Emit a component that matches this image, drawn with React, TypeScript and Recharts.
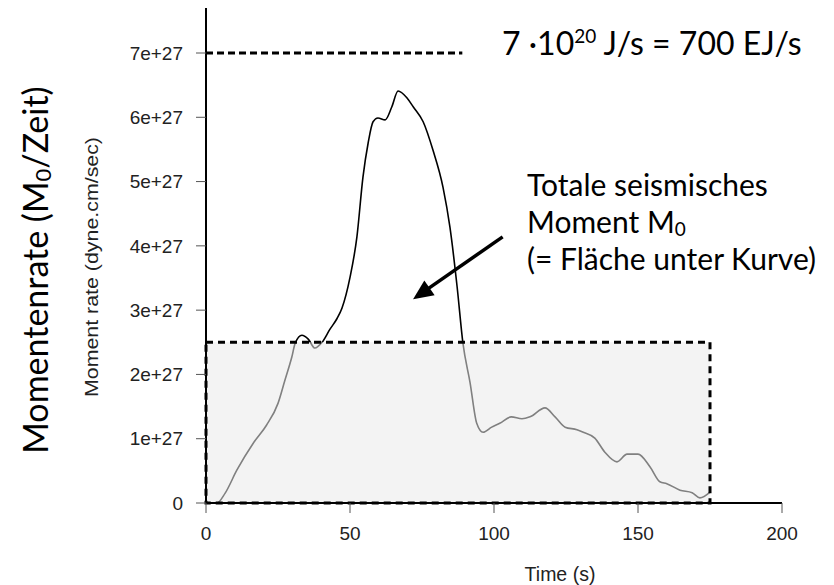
import React from 'react'
import { LineChart, Line, XAxis, YAxis, ReferenceArea, ReferenceLine } from 'recharts'

// seconds after origin
const timeS = [
  0, 3.8, 6.6, 10.7, 16.4, 21, 25, 27.4, 29.8, 31, 33.3, 35.5, 37.8, 40.3, 43, 45.5, 47.2,
  50, 52.4, 54.5, 56.3, 58, 59.7, 62.2, 64.5, 66.7, 69.8, 72, 75.4, 78.8, 82.3, 84.7, 87.2,
  89.2, 91.7, 94, 96.2, 99.2, 102, 106, 109.7, 112.5, 117.7, 121.2, 124.7, 128.8, 131, 135,
  138.5, 142.7, 146.2, 150, 154.2, 157.6, 160, 164.6, 168.8, 171.5, 175,
]
// moment rate, dyne.cm/sec
const momentRate = [
  0, 0, 0.15e27, 0.51e27, 0.93e27, 1.21e27, 1.55e27, 1.91e27, 2.27e27, 2.49e27, 2.61e27, 2.55e27,
  2.41e27, 2.5e27, 2.7e27, 2.87e27, 3.03e27, 3.51e27, 4.14e27, 5.07e27, 5.6e27, 5.93e27, 5.99e27,
  5.96e27, 6.16e27, 6.41e27, 6.3e27, 6.16e27, 5.93e27, 5.49e27, 4.91e27, 4.29e27, 3.36e27,
  2.49e27, 1.87e27, 1.24e27, 1.1e27, 1.18e27, 1.24e27, 1.34e27, 1.31e27, 1.34e27, 1.48e27,
  1.34e27, 1.18e27, 1.14e27, 1.1e27, 1.01e27, 0.79e27, 0.64e27, 0.76e27, 0.76e27, 0.56e27,
  0.33e27, 0.3e27, 0.2e27, 0.16e27, 0.08e27, 0.17e27,
]

const xTicks = [0, 50, 100, 150, 200]
const yTicks = [0, 1e27, 2e27, 3e27, 4e27, 5e27, 6e27, 7e27]
const yTickLabels = ['0', '1e+27', '2e+27', '3e+27', '4e+27', '5e+27', '6e+27', '7e+27']

// box marking the area under the curve
const boxX = [0, 175]
const boxY = [0, 2.5e27]
// peak rate line
const peakRate = 7e27
const peakLineEnd = 89
// arrow tail / head (s, dyne.cm/sec)
const arrowFrom = { x: 103, y: 4.14e27 }
const arrowTo = { x: 71.9, y: 3.17e27 }

const data = timeS.map((t, i) => ({ t, rate: momentRate[i] }))

const axisFont = 'Liberation Sans, Arial, sans-serif'
const tickFont = { fill: '#222', fontSize: 19, fontFamily: axisFont }
const noteFont = 'Lato, "Open Sans", sans-serif'

function ArrowShape(props: any) {
  const { x1, y1, x2, y2 } = props
  const dx = x2 - x1
  const dy = y2 - y1
  const len = Math.sqrt(dx * dx + dy * dy)
  const ux = dx / len
  const uy = dy / len
  const headLen = 20
  const headHalf = 9
  const bx = x2 - ux * headLen
  const by = y2 - uy * headLen
  const pts = `${x2},${y2} ${bx - uy * headHalf},${by + ux * headHalf} ${bx + uy * headHalf},${by - ux * headHalf}`
  return (
    <g>
      <line x1={x1} y1={y1} x2={bx + ux * 2} y2={by + uy * 2} stroke="#000" strokeWidth={3.5} />
      <polygon points={pts} fill="#000" />
    </g>
  )
}

export default function App() {
  return (
    <div style={{ position: 'absolute', left: 0, top: 0, width: 834, height: 585, background: '#fff' }}>
      <LineChart
        width={834}
        height={585}
        data={data}
        margin={{ top: 8, right: 52, bottom: 0, left: 0 }}
        style={{ fontSize: 19, fontFamily: axisFont }}
      >
        <XAxis
          dataKey="t"
          type="number"
          domain={[0, 200]}
          ticks={xTicks}
          height={82}
          fontSize={19}
          tick={tickFont}
          tickSize={10}
          tickMargin={14}
          axisLine={{ stroke: '#000', strokeWidth: 2 }}
          tickLine={{ stroke: '#555' }}
        />
        <YAxis
          type="number"
          width={206}
          domain={[0, 7.7e27]}
          ticks={yTicks}
          allowDataOverflow
          fontSize={19}
          tickFormatter={(v: number) => yTickLabels[yTicks.indexOf(v)]}
          tick={tickFont}
          tickSize={10}
          tickMargin={13}
          axisLine={{ stroke: '#000', strokeWidth: 2 }}
          tickLine={{ stroke: '#555' }}
        />
        <ReferenceLine
          segment={[{ x: 0, y: peakRate }, { x: peakLineEnd, y: peakRate }]}
          stroke="#000"
          strokeWidth={3}
          strokeDasharray="7 4"
        />
        <Line
          type="monotone"
          dataKey="rate"
          stroke="#000"
          strokeWidth={1.6}
          dot={false}
          activeDot={false}
          isAnimationActive={false}
        />
        <ReferenceArea
          x1={boxX[0]}
          x2={boxX[1]}
          y1={boxY[0]}
          y2={boxY[1]}
          fill="rgb(233,233,233)"
          fillOpacity={0.55}
          stroke="#000"
          strokeWidth={3}
          strokeDasharray="7 5"
          isFront
          zIndex={450}
        />
        <ReferenceLine
          segment={[arrowFrom, arrowTo]}
          stroke="#000"
          isFront
          zIndex={460}
          shape={(p: any) => <ArrowShape {...p} />}
        />
      </LineChart>
      <svg
        width={834}
        height={585}
        style={{ position: 'absolute', left: 0, top: 0, pointerEvents: 'none' }}
      >
        <text x={502} y={55} fontFamily={noteFont} fontSize={32} fill="#000">
          7 ·10<tspan fontSize={19} dy={-12}>20</tspan>
          <tspan dy={12}> J/s = 700 EJ/s</tspan>
        </text>
        <text x={527} y={196} fontFamily={noteFont} fontSize={30} fill="#000">Totale seismisches</text>
        <text x={527} y={233} fontFamily={noteFont} fontSize={30} fill="#000">
          Moment M<tspan fontSize={19} dy={3}>0</tspan>
        </text>
        <text x={527} y={270} fontFamily={noteFont} fontSize={30} fill="#000">(= Fläche unter Kurve)</text>
        <text
          transform="translate(48,270) rotate(-90)"
          textAnchor="middle"
          fontFamily={noteFont}
          fontSize={34}
          fill="#000"
        >
          Momentenrate (M<tspan fontSize={22} dy={3}>0</tspan>
          <tspan dy={-3}>/Zeit)</tspan>
        </text>
        <text
          transform="translate(98,267) rotate(-90)"
          textAnchor="middle"
          fontFamily={axisFont}
          fontSize={18}
          textLength={260}
          lengthAdjust="spacingAndGlyphs"
          fill="#222"
        >
          Moment rate (dyne.cm/sec)
        </text>
        <text
          x={560}
          y={581}
          textAnchor="middle"
          fontFamily={axisFont}
          fontSize={19.5}
          fill="#222"
        >
          Time (s)
        </text>
      </svg>
    </div>
  )
}
